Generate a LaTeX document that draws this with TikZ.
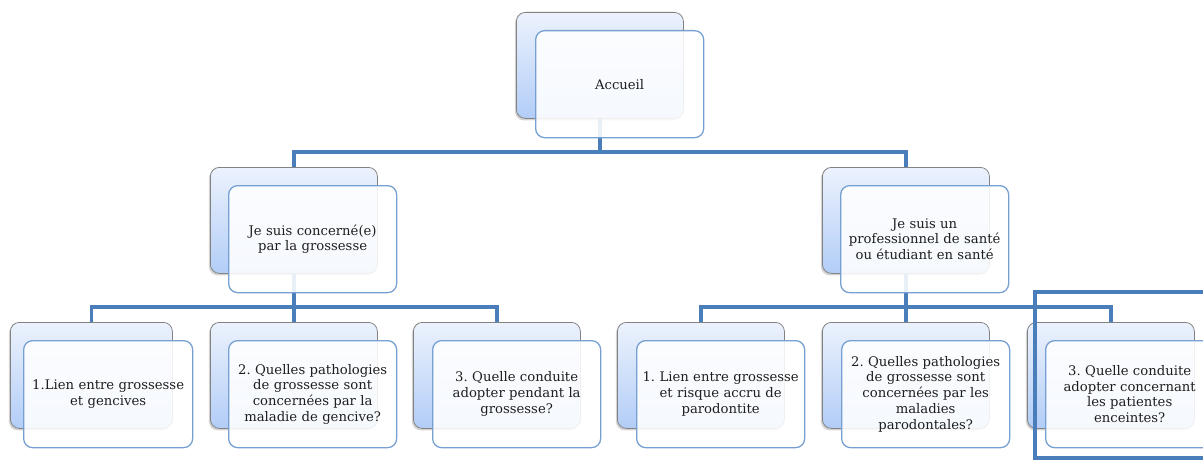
\documentclass[tikz,border=0pt]{standalone}
\usepackage{fontspec}
\setmainfont{DejaVu Serif}
\usetikzlibrary{shadows}
\definecolor{conncol}{RGB}{74,126,187}
\definecolor{backtop}{RGB}{236,242,253}
\definecolor{backbot}{RGB}{178,205,247}
\definecolor{backline}{RGB}{130,130,130}
\definecolor{frontline}{RGB}{118,160,210}
\definecolor{txtcol}{RGB}{30,30,30}
\tikzset{
  backbox/.style={draw=backline, line width=0.8pt, rounded corners=9pt,
    top color=backtop, bottom color=backbot, anchor=north west,
    minimum width=#1, minimum height=106pt, inner sep=0pt,
    drop shadow={shadow xshift=-1.5pt, shadow yshift=-2pt, opacity=0.35}},
  backbox/.default=167pt,
  frontbox/.style={draw=frontline, line width=1.3pt, rounded corners=9pt,
    fill=white, fill opacity=0.88, text opacity=1, anchor=north west,
    minimum width=#1, minimum height=107pt, inner sep=0pt,
    text width=#1, align=center, text=txtcol,
    font=\fontsize{13.2pt}{15.8pt}\selectfont},
  frontbox/.default=168pt,
  conn/.style={draw=conncol, line width=3.2pt},
  highlight/.style={draw=conncol, line width=3.6pt}
}
\frenchspacing
\begin{document}
\begin{tikzpicture}[x=1pt,y=-1pt]
\useasboundingbox (0,0) rectangle (1203,460);
\clip (0,0) rectangle (1203,460);
% back boxes
\node[backbox] (b0) at (516,12) {};
\node[backbox] (b1) at (210,167) {};
\node[backbox] (b2) at (822,167) {};
\node[backbox=162pt] (c1) at (10,322) {};
\node[backbox] (c2) at (210,322) {};
\node[backbox] (c3) at (413,322) {};
\node[backbox] (c4) at (617,322) {};
\node[backbox] (c5) at (822,322) {};
\node[backbox] (c6) at (1027,322) {};
% connectors
\coordinate (bus0) at (600,152);
\coordinate (bus1) at (0,307);
\draw[conn] (b0.south) -- (b0.south |- bus0) -| (b1.north);
\draw[conn] (b0.south |- bus0) -| (b2.north);
\draw[conn] (b1.south) -- (b1.south |- bus1) -| (c1.north);
\draw[conn] (b1.south |- bus1) -| (c2.north);
\draw[conn] (b1.south |- bus1) -| (c3.north);
\draw[conn] (b2.south) -- (b2.south |- bus1) -| (c4.north);
\draw[conn] (b2.south |- bus1) -| (c5.north);
\draw[conn] (b2.south |- bus1) -| (c6.north);
% front boxes
\node[frontbox] (f0) at (535,30) {Accueil};
\node[frontbox] (f1) at (228,185) {Je suis concerné(e)\\par la grossesse};
\node[frontbox] (f2) at (840,185) {Je suis un\\professionnel de santé\\ou étudiant en santé};
\node[frontbox=169pt] (g1) at (23,340) {1.Lien entre grossesse\\et gencives};
\node[frontbox] (g2) at (228,340) {2. Quelles pathologies\\de grossesse sont\\concernées par la\\maladie de gencive?};
\node[frontbox] (g3) at (432,340) {3. Quelle conduite\\adopter pendant la\\grossesse?};
\node[frontbox] (g4) at (636,340) {1. Lien entre grossesse\\et risque accru de\\parodontite};
\node[frontbox] (g5) at (841,340) {2. Quelles pathologies\\de grossesse sont\\concernées par les\\maladies\\parodontales?};
\node[frontbox] (g6) at (1045,340) {3. Quelle conduite\\adopter concernant\\les patientes\\enceintes?};
% highlight frame
\draw[highlight] (1035,292) rectangle (1212,458);
\end{tikzpicture}
\end{document}
